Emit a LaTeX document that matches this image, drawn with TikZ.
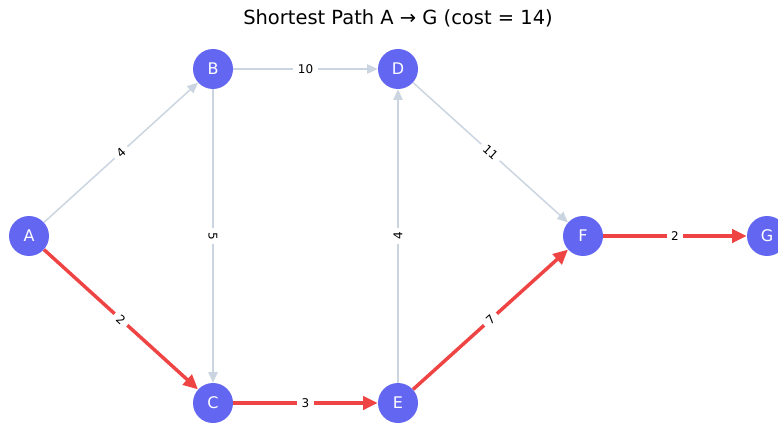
\documentclass[tikz,border=0pt]{standalone}
\usepackage{fontspec}
\setmainfont{DejaVu Sans}
\usetikzlibrary{arrows.meta}
\definecolor{vertexblue}{HTML}{6366F1}
\definecolor{pathred}{HTML}{EF4444}
\definecolor{edgegray}{HTML}{CBD5E1}
\tikzset{
  vertex/.style={circle,fill=vertexblue,minimum size=30pt,inner sep=0pt,text=white,font=\fontsize{12}{14}\selectfont},
  plainedge/.style={draw=edgegray,line width=1.1pt,-{Triangle[length=8pt,width=7pt]}},
  pathedge/.style={draw=pathred,line width=2.6pt,-{Triangle[length=11pt,width=10pt]}},
  weight/.style={fill=white,inner xsep=3.5pt,inner ysep=1.5pt,font=\fontsize{9}{10}\selectfont}
}
\begin{document}
\begin{tikzpicture}[x=0.75pt,y=-0.75pt]
  \useasboundingbox (0,0) rectangle (778,424);
  \clip (0,0) rectangle (778,424);
  \fill[white] (0,0) rectangle (778,424);
  \node[font=\fontsize{14.6}{17}\selectfont] (title) at (398,18) {Shortest Path A → G (cost = 14)};
  % vertices
  \node[vertex] (A) at (29,236) {A};
  \node[vertex] (B) at (213,69) {B};
  \node[vertex] (C) at (213,403) {C};
  \node[vertex] (D) at (398,69) {D};
  \node[vertex] (E) at (398,403) {E};
  \node[vertex] (F) at (583,236) {F};
  \node[vertex] (G) at (767,236) {G};
  % edges off the path
  \draw[plainedge] (A) -- node[weight,rotate=42] {4} (B);
  \draw[plainedge] (B) -- node[weight] {10} (D);
  \draw[plainedge] (B) -- node[weight,rotate=-90] {5} (C);
  \draw[plainedge] (E) -- node[weight,rotate=90] {4} (D);
  \draw[plainedge] (D) -- node[weight,rotate=-42] {11} (F);
  % shortest path
  \draw[pathedge] (A) -- node[weight,rotate=-42] {2} (C);
  \draw[pathedge] (C) -- node[weight] {3} (E);
  \draw[pathedge] (E) -- node[weight,rotate=42] {7} (F);
  \draw[pathedge] (F) -- node[weight] {2} (G);
\end{tikzpicture}
\end{document}
